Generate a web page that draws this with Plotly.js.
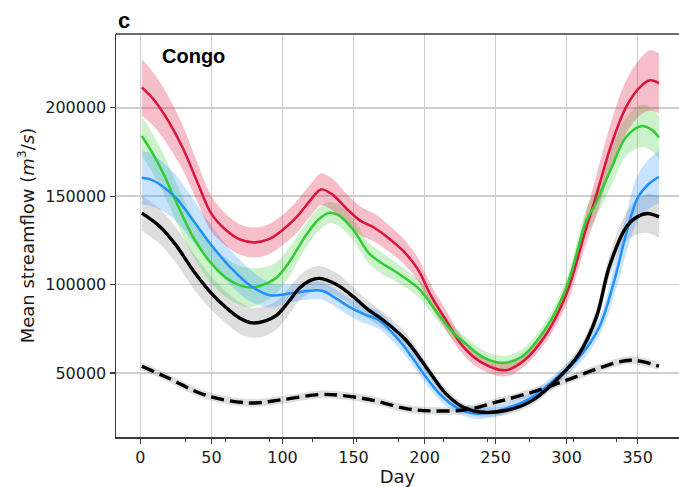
<!DOCTYPE html>
<html>
<head>
<meta charset="utf-8">
<script src="https://cdn.plot.ly/plotly-3.0.1.min.js"></script>
<style>html,body{margin:0;padding:0;background:#fff;}#chart{width:679px;height:487px;}</style>
</head>
<body>
<div id="chart"></div>
<script>
// ---- data ----
const xTickVals = [0, 50, 100, 150, 200, 250, 300, 350];
const monthTicks = [32, 60, 91, 121, 152, 182, 213, 244, 274, 305, 335];
const yTickVals = [50000, 100000, 150000, 200000];

const redDays = [1, 10, 20, 30, 40, 50, 60, 70, 80, 90, 100, 110, 120, 127, 135, 145, 155, 165, 175, 185, 195, 205, 215, 227, 240, 257, 270, 286, 300, 314, 320, 331, 342, 352, 359, 365];
const redMean = [211500, 204000, 192000, 177000, 158000, 140000, 131000, 125500, 123800, 125500, 130800, 138300, 148000, 153800, 151000, 143000, 136000, 132000, 126000, 119000, 109000, 93000, 80000, 65000, 56000, 51500, 57000, 72300, 95000, 132600, 148000, 178000, 200600, 212000, 215500, 213800];
const redSpread = [16000, 15000, 14000, 12500, 11000, 10000, 9000, 8500, 8500, 8500, 8500, 9000, 9000, 9000, 9000, 8500, 8000, 8000, 7500, 7000, 6500, 6000, 5500, 4500, 4000, 3500, 3500, 4000, 6000, 9000, 11000, 13000, 15000, 16000, 17000, 17000];

const greenDays = [1, 8, 16, 25, 37, 49, 60, 70, 77, 85, 95, 105, 115, 125, 133, 140, 150, 161, 170, 178, 190, 197, 210, 220, 229, 242, 255, 268, 286, 300, 314, 320, 331, 342, 353, 360, 365];
const greenMean = [184000, 175000, 163000, 147000, 127000, 112800, 104000, 99500, 98300, 99500, 103400, 113000, 126000, 136500, 140600, 139000, 130800, 117600, 112000, 108100, 101500, 96800, 83000, 73000, 66500, 58500, 55700, 59000, 76000, 98700, 136400, 145000, 165000, 183600, 189700, 187500, 183200];
const greenSpread = [11000, 11000, 11000, 11000, 11000, 11000, 11000, 11000, 11000, 10000, 9000, 8000, 7000, 6500, 6000, 6000, 6000, 6000, 6000, 5500, 5000, 5000, 4500, 4000, 4000, 4000, 4000, 4000, 4000, 5000, 7000, 8000, 10000, 11000, 12000, 12000, 12000];

const blueDays = [1, 7, 14, 25, 37, 49, 63, 77, 91, 105, 119, 128, 138, 147, 158, 168, 182, 192, 201, 212, 222, 236, 257, 276, 295, 309, 323, 333, 342, 350, 358, 365];
const blueMean = [160400, 159500, 156500, 149000, 136400, 123200, 110000, 99600, 94000, 94900, 96500, 96500, 92000, 87400, 83000, 79800, 68500, 58000, 47700, 37000, 30700, 27000, 29800, 36400, 48700, 59000, 76000, 100600, 128900, 149000, 157000, 161000];
const blueSpread = [15000, 15000, 14000, 13000, 12000, 11000, 10000, 9000, 7000, 5000, 5000, 5000, 5000, 5000, 5000, 5000, 4500, 4000, 4000, 3500, 3000, 3000, 3000, 3000, 3000, 4000, 5000, 8000, 11000, 13000, 14000, 15000];

const blackDays = [1, 14, 25, 37, 49, 61, 70, 79, 88, 96, 104, 112, 120, 126, 138, 150, 160, 171, 187, 201, 215, 227, 239, 258, 276, 295, 309, 321, 330, 342, 350, 357, 365];
const blackMean = [140400, 132600, 122300, 108100, 95900, 86500, 81000, 78300, 79500, 82700, 90000, 98000, 102500, 103500, 100000, 93000, 86000, 79800, 68500, 53400, 38300, 30700, 27900, 28900, 34500, 47700, 61000, 81700, 110000, 132600, 138500, 140200, 138300];
const blackSpread = [10000, 10000, 10000, 10000, 9500, 9000, 9000, 8500, 8500, 8000, 7500, 7000, 7000, 7000, 6500, 5500, 5000, 4500, 4000, 3000, 3000, 2500, 2500, 2500, 2500, 3000, 3500, 4500, 6000, 8000, 10000, 11000, 12000];

const dashDays = [1, 18, 46, 77, 100, 126, 140, 164, 187, 206, 230, 251, 276, 300, 323, 345, 365];
const dashMean = [53800, 47700, 37400, 33000, 34900, 37800, 37400, 34500, 29800, 28500, 29300, 33600, 39200, 45900, 52800, 57200, 53800];
const dashSpread = [2200, 2200, 2200, 2200, 2200, 2200, 2200, 2200, 2200, 2200, 2200, 2200, 2200, 2200, 2200, 2200, 2200];

// ---- build traces ----
function band(days, mean, spread, fillColor) {
  const lo = mean.map((v, i) => v - spread[i]);
  const hi = mean.map((v, i) => v + spread[i]);
  return [
    {x: days, y: lo, mode: 'lines', line: {width: 0, shape: 'spline', smoothing: 1}, hoverinfo: 'skip', showlegend: false},
    {x: days, y: hi, mode: 'lines', fill: 'tonexty', fillcolor: fillColor, line: {width: 0, shape: 'spline', smoothing: 1}, hoverinfo: 'skip', showlegend: false}
  ];
}
function line(days, mean, color, width, dash) {
  return {x: days, y: mean, mode: 'lines', line: {color: color, width: width, shape: 'spline', smoothing: 1, dash: dash || 'solid'}, showlegend: false};
}

const traces = [].concat(
  band(blackDays, blackMean, blackSpread, 'rgba(0,0,0,0.13)'),
  band(dashDays, dashMean, dashSpread, 'rgba(0,0,0,0.13)'),
  band(greenDays, greenMean, greenSpread, 'rgba(50,205,50,0.25)'),
  band(blueDays, blueMean, blueSpread, 'rgba(30,144,255,0.25)'),
  band(redDays, redMean, redSpread, 'rgba(220,20,60,0.28)'),
  [
    line(redDays, redMean, '#DC143C', 2.5),
    line(greenDays, greenMean, '#32CD32', 2.5),
    line(blueDays, blueMean, '#1E90FF', 2.5),
    line(blackDays, blackMean, '#000000', 3.4),
    line(dashDays, dashMean, '#000000', 3.4, '13px,6px')
  ]
);

const spine = '#3a3a3a';
const layout = {
  width: 679, height: 487,
  margin: {l: 116, r: 0, t: 34, b: 50},
  paper_bgcolor: '#ffffff', plot_bgcolor: '#ffffff',
  font: {family: 'DejaVu Sans', size: 16, color: '#1a1a1a'},
  showlegend: false,
  xaxis: {
    range: [-17.2, 379.1], tickmode: 'array', tickvals: xTickVals,
    ticks: 'outside', ticklen: 5, tickwidth: 1.2, tickcolor: spine,
    showline: true, linecolor: spine, linewidth: 1.5, mirror: false,
    showgrid: true, gridcolor: '#cfcfcf', gridwidth: 1.5, zeroline: false,
    tickfont: {family: 'DejaVu Sans', size: 16, color: '#1a1a1a'},
    minor: {tickmode: 'array', tickvals: monthTicks, ticks: 'outside', ticklen: 3, tickwidth: 1, tickcolor: spine, showgrid: false},
    title: {text: 'Day', font: {family: 'DejaVu Sans', size: 18, color: '#1a1a1a'}, standoff: 4}
  },
  yaxis: {
    range: [13770, 241720], tickmode: 'array', tickvals: yTickVals, tickformat: 'd',
    ticks: 'outside', ticklen: 5, tickwidth: 1.2, tickcolor: spine,
    showline: true, linecolor: spine, linewidth: 1.5,
    showgrid: true, gridcolor: '#cfcfcf', gridwidth: 1.5, zeroline: false,
    tickfont: {family: 'DejaVu Sans', size: 16, color: '#1a1a1a'},
    title: {text: 'Mean streamflow (<i>m</i><sup>3</sup>/<i>s</i>)', font: {family: 'DejaVu Sans', size: 18, color: '#1a1a1a'}, standoff: 6}
  },
  shapes: [
    {type: 'line', xref: 'paper', yref: 'paper', x0: 0, x1: 1, y0: 1, y1: 1, line: {color: spine, width: 1.5}}
  ],
  annotations: [
    {text: '<b>c</b>', xref: 'paper', yref: 'paper', x: 0, y: 1.034, xanchor: 'left', yanchor: 'middle', showarrow: false,
     font: {family: 'Liberation Sans', size: 22, color: '#000'}},
    {text: '<b>Congo</b>', xref: 'x', yref: 'y', x: 13.6, y: 229300, xanchor: 'left', yanchor: 'middle', showarrow: false,
     font: {family: 'Liberation Sans', size: 20, color: '#000'}}
  ]
};

Plotly.newPlot('chart', traces, layout, {staticPlot: true, displayModeBar: false});
</script>
</body>
</html>
